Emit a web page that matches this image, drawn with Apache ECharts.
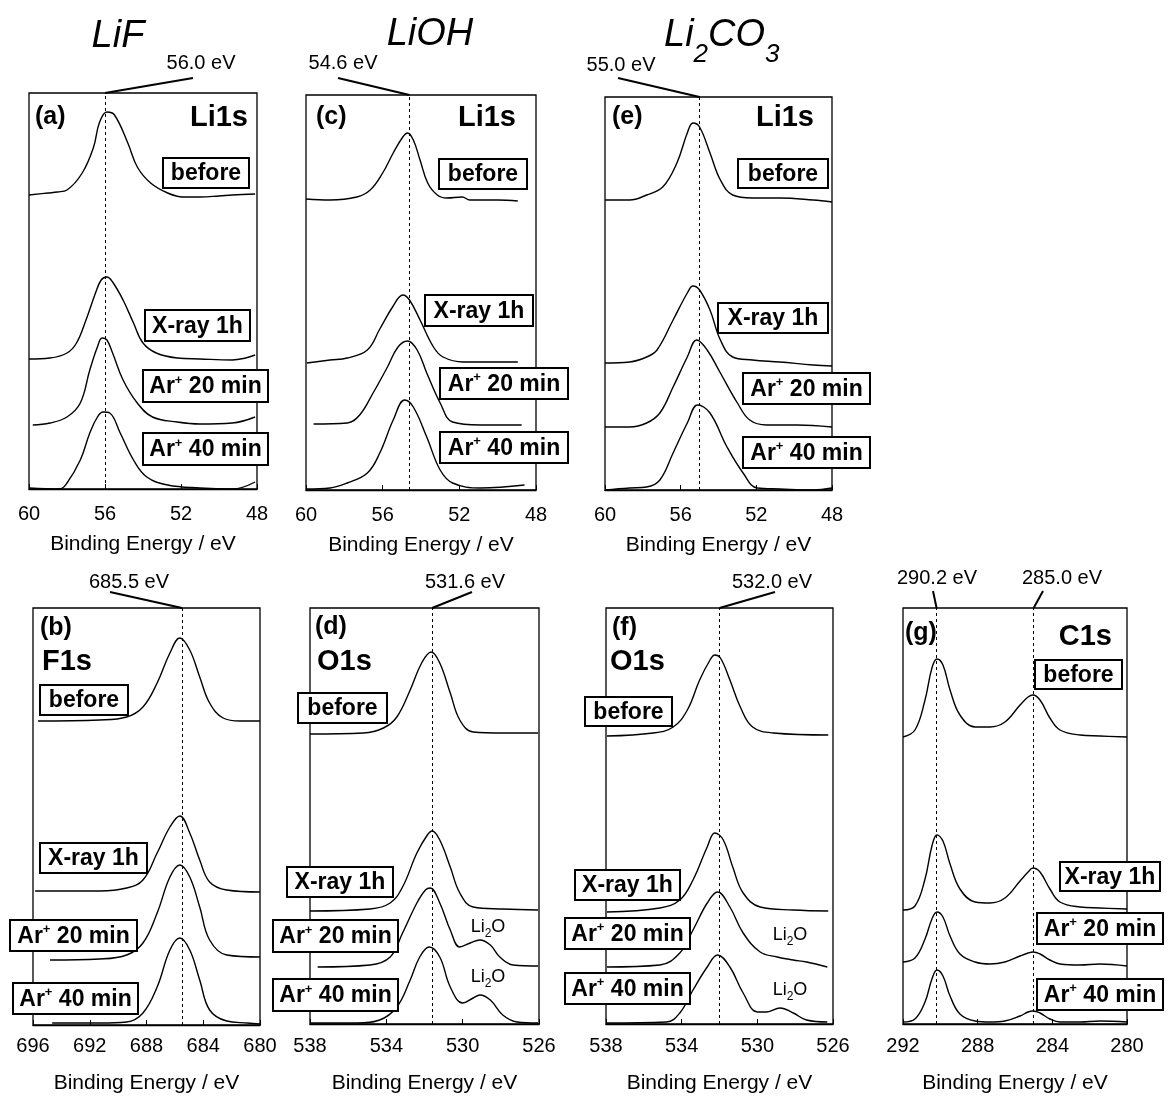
<!DOCTYPE html>
<html><head><meta charset="utf-8">
<script src="https://cdn.jsdelivr.net/npm/echarts@6/dist/echarts.min.js"></script>
<style>html,body{margin:0;padding:0;background:#fff}#c{width:1168px;height:1097px}</style>
</head><body><div id="c"></div>
<script>
// ---------- DATA: [binding energy (eV), intensity (a.u., offset stacked)] ----------
// (a) LiF Li1s
const a_before = [[60,294],[59,296],[58.5,297],[58,299],[57.2,316],[56.6,342],[56.3,366],[55.9,377],[55.5,374],[54.8,346],[54.3,322],[53.6,306],[52.7,296],[51.9,292],[51,292],[50,293],[49.3,294],[48.1,295]];
const a_xray   = [[60,130],[58.9,131],[58,136],[57.5,146],[57,169],[56.5,196],[56.2,209],[55.9,212],[55.6,207],[55.05,189],[54.5,166],[54,146],[53.3,136],[52.2,131],[51,130],[49.3,129],[48.6,131],[48.1,134]];
const a_ar20   = [[59.8,64],[58.9,66],[58,72],[57.3,86],[56.8,119],[56.4,142],[56.15,151],[55.9,149],[55.6,136],[55.05,109],[54.3,86],[53.5,72],[52.2,67],[51,65],[49.3,66],[48.1,72]];
const a_ar40   = [[60,1],[58.4,0],[58,6],[57.3,29],[56.8,56],[56.4,72],[56.1,77],[55.75,76],[55.2,56],[54.5,29],[53.8,12],[52.7,4],[51,1],[49.3,0],[48.1,7]];
// (c) LiOH Li1s
const c_before = [[60,291],[58.75,290],[57.35,293],[56.65,300],[56,317],[55.45,337],[54.95,353],[54.7,357],[54.4,350],[54.05,330],[53.65,307],[53.15,295],[52.65,292],[51.85,293],[51.45,290],[50,290],[48.95,289]];
const c_xray   = [[59.95,127],[58.75,130],[57.85,132],[56.8,140],[56.15,161],[55.45,184],[54.95,195],[54.6,190],[54.05,170],[53.35,143],[52.85,133],[51.8,128],[50,128],[48.95,128]];
const c_ar20   = [[59.6,66],[57.85,67],[57.2,75],[56.5,97],[55.75,123],[55.2,143],[54.7,149],[54.2,140],[53.7,117],[53,87],[52.35,68],[50.9,65],[48.75,65]];
const c_ar40   = [[59.95,1],[58.75,2],[57.85,7],[56.8,17],[56.15,37],[55.45,70],[54.85,90],[54.4,83],[53.7,53],[53,20],[52.35,7],[50.9,2],[48.6,5]];
// (e) Li2CO3 Li1s
const e_before = [[60,290],[58.7,290],[57.8,295],[56.95,303],[56.2,327],[55.65,357],[55.35,367],[55,363],[54.45,337],[53.9,310],[53.25,295],[52.2,292],[50.75,292],[49,290],[48,288]];
const e_xray   = [[60,127],[58.7,128],[57.8,133],[57.25,140],[56.4,170],[55.65,197],[55.35,204],[55,200],[54.45,180],[53.9,150],[53.25,133],[52.2,130],[50.75,128],[49,125],[48,124]];
const e_ar20   = [[60,63],[58.7,63],[57.8,67],[57.1,77],[56.4,103],[55.65,133],[55.15,150],[54.6,140],[53.9,117],[53,87],[52.35,70],[51.45,65],[49.85,65],[48,63]];
const e_ar40   = [[60,0],[58.7,2],[57.8,3],[57.1,10],[56.4,37],[55.65,67],[55.1,85],[54.45,77],[53.55,43],[52.7,17],[51.95,2],[50.75,1],[49,0],[48,2]];
// (b) LiF F1s
const b_before = [[695.65,304],[691.3,305],[689.4,308],[688.25,318],[687.25,342],[686.35,372],[685.65,387],[684.95,375],[684.25,348],[683.55,322],[682.6,307],[681.4,304],[680,304]];
const b_xray   = [[695.85,134],[691.3,134],[689.4,137],[688.25,145],[687.25,172],[686.35,198],[685.65,209],[684.95,192],[684.25,165],[683.55,143],[682.35,135],[680,133]];
const b_ar20   = [[694.8,65],[691.3,66],[689.4,70],[688.25,82],[687.25,112],[686.35,148],[685.65,160],[684.95,148],[684.25,118],[683.55,85],[682.35,70],[680,68]];
const b_ar40   = [[694.65,2],[691.3,2],[689.4,3],[688.25,12],[687.25,38],[686.35,75],[685.65,87],[684.95,75],[684.25,45],[683.55,15],[682.35,4],[680.9,2],[680,1]];
// (d) LiOH O1s
const d_before = [[538,290],[535.2,291],[534.15,296],[533.45,307],[532.75,334],[532.15,361],[531.65,372],[531.2,361],[530.65,331],[530.15,304],[529.45,292],[527.9,291],[526.05,291]];
const d_xray   = [[538,113],[534.85,115],[533.8,121],[533.15,137],[532.4,171],[531.85,189],[531.6,193],[531.2,184],[530.65,157],[530.15,131],[529.45,117],[527.9,115],[526.05,114]];
const d_ar20   = [[537.6,57],[534.85,59],[533.8,67],[533.15,91],[532.4,121],[531.95,134],[531.7,136],[531.2,121],[530.65,94],[530.15,77],[529.6,81],[529.1,84],[528.55,79],[528.05,67],[527.35,59],[526.05,58]];
const d_ar40   = [[538,1],[535.55,1],[534.35,4],[533.45,17],[532.75,44],[532.25,67],[531.75,77],[531.2,67],[530.65,37],[530,21],[529.45,26],[529.1,29],[528.55,24],[527.9,9],[527.15,2],[526.05,1]];
// (f) Li2CO3 O1s
const f_before = [[537.95,288],[535.5,291],[534.45,297],[533.7,314],[533.05,344],[532.5,364],[532.25,369],[531.95,366],[531.45,344],[530.9,317],[530.25,297],[529.15,291],[526.25,289]];
const f_xray   = [[537.95,112],[535.15,116],[534.1,124],[533.4,144],[532.65,177],[532.25,191],[531.8,184],[531.3,157],[530.75,131],[529.85,117],[528.1,114],[526.25,113]];
const f_ar20   = [[537.95,57],[535.15,59],[534.1,71],[533.4,94],[532.65,121],[532.1,132],[531.45,117],[530.75,91],[529.85,72],[528.95,67],[528.1,64],[527.4,62],[526.3,57]];
const f_ar40   = [[538,1],[534.8,2],[534.1,11],[533.4,34],[532.65,57],[532.1,69],[531.45,57],[530.75,31],[530,12],[529.5,12],[528.8,16],[528.1,11],[527.4,4],[526.3,2]];
// (g) Li2CO3 C1s
const g_before = [[292,287],[291.36,294],[290.82,324],[290.45,356],[290.18,365],[289.86,359],[289.48,334],[288.95,309],[288.14,297],[287.34,297],[286.54,302],[285.73,319],[285.3,327],[285.04,329],[284.66,324],[284.13,306],[283.59,294],[282.52,289],[281.45,288],[280,287]];
const g_xray   = [[292,114],[291.36,118],[290.82,145],[290.45,178],[290.18,189],[289.86,183],[289.48,160],[288.95,135],[288.14,122],[287.34,121],[286.54,126],[285.73,143],[285.3,152],[285.04,156],[284.66,152],[284.13,135],[283.59,122],[282.52,117],[281.45,116],[280,115]];
const g_ar20   = [[292,62],[291.36,66],[290.82,85],[290.45,105],[290.18,112],[289.86,107],[289.48,88],[288.95,70],[288.14,62],[287.34,60],[286.54,62],[285.73,68],[285.3,71],[285.04,72],[284.66,70],[284.13,64],[283.59,60],[282.52,59],[281.45,60],[280,58]];
const g_ar40   = [[292,2],[291.36,5],[290.82,22],[290.45,45],[290.18,54],[289.86,48],[289.48,28],[288.95,10],[288.14,3],[287.34,2],[286.54,3],[285.73,8],[285.3,12],[285.04,13],[284.66,11],[284.13,5],[283.59,2],[282.52,2],[281.45,3],[280,2]];

// reference peak energies (dashed lines)
const a_ref = [56.0], c_ref = [54.6], e_ref = [55.0], b_ref = [685.5], d_ref = [531.6], f_ref = [532.0], g_ref = [290.2, 285.0];
// x-axis ranges (eV) and tick step
const a_range = [48, 60], c_range = [48, 60], e_range = [48, 60];
const b_range = [680, 696], d_range = [526, 538], f_range = [526, 538], g_range = [280, 292];
const tickStep = 4;
const traceNames = ['before', 'X-ray 1h', 'Ar+ 20 min', 'Ar+ 40 min'];

// ---------- LAYOUT ----------
const FONT = '"Liberation Sans", Arial, Helvetica, sans-serif';
const panels = [
  {grid:{left:29, top:93, width:228, height:396}, range:a_range, traces:[a_before,a_xray,a_ar20,a_ar40], refs:a_ref, nameGap:45, margin:15},
  {grid:{left:306, top:95, width:230, height:395}, range:c_range, traces:[c_before,c_xray,c_ar20,c_ar40], refs:c_ref, nameGap:45, margin:15},
  {grid:{left:605, top:97, width:227, height:393}, range:e_range, traces:[e_before,e_xray,e_ar20,e_ar40], refs:e_ref, nameGap:45, margin:15},
  {grid:{left:33, top:608, width:227, height:417}, range:b_range, traces:[b_before,b_xray,b_ar20,b_ar40], refs:b_ref, nameGap:48, margin:11},
  {grid:{left:310, top:608, width:229, height:416}, range:d_range, traces:[d_before,d_xray,d_ar20,d_ar40], refs:d_ref, nameGap:49, margin:12},
  {grid:{left:606, top:608, width:227, height:416}, range:f_range, traces:[f_before,f_xray,f_ar20,f_ar40], refs:f_ref, nameGap:49, margin:12},
  {grid:{left:903, top:608, width:224, height:416}, range:g_range, traces:[g_before,g_xray,g_ar20,g_ar40], refs:g_ref, nameGap:49, margin:12}
];

const grid = [], xAxis = [], yAxis = [], series = [];
panels.forEach((p, i) => {
  grid.push(Object.assign({show:true, borderColor:'#000', borderWidth:1.3, backgroundColor:'transparent', containLabel:false}, p.grid));
  xAxis.push({
    gridIndex:i, type:'value', min:p.range[0], max:p.range[1], interval:tickStep, inverse:true,
    axisLine:{show:true, onZero:false, lineStyle:{color:'#000', width:1.3}},
    axisTick:{show:true, inside:true, length:5, lineStyle:{color:'#000', width:1}},
    axisLabel:{color:'#000', fontSize:20, fontFamily:FONT, margin:p.margin},
    splitLine:{show:false},
    name:'Binding Energy / eV', nameLocation:'middle', nameGap:p.nameGap,
    nameTextStyle:{color:'#000', fontSize:21, fontFamily:FONT}
  });
  yAxis.push({gridIndex:i, type:'value', min:0, max:p.grid.height, show:false});
  p.traces.forEach((t, j) => {
    const s = {
      type:'line', name:traceNames[j], xAxisIndex:i, yAxisIndex:i, data:t,
      showSymbol:false, smooth:0.4, animation:false, silent:true,
      lineStyle:{color:'#000', width:1.4}
    };
    if (j === 0) {
      s.markLine = {silent:true, symbol:'none', animation:false, label:{show:false},
        lineStyle:{type:[3,3], color:'#000', width:1},
        data: p.refs.map(v => ({xAxis:v}))};
    }
    series.push(s);
  });
});

const chart = echarts.init(document.getElementById('c'), null, {renderer:'canvas'});
chart.setOption({backgroundColor:'#fff', animation:false, grid, xAxis, yAxis, series});

// ---------- ANNOTATIONS ----------
const ctx = document.createElement('canvas').getContext('2d');
function tw(t, font){ ctx.font = font; return ctx.measureText(t).width; }
const G = [];
function txt(x, y, t, font, align, va){
  G.push({type:'text', x, y, z:100, silent:true, style:{text:t, font, fill:'#000', align:align||'left', verticalAlign:va||'middle'}});
}
function seg(x1, y1, x2, y2, w){
  G.push({type:'line', z:100, silent:true, shape:{x1, y1, x2, y2}, style:{stroke:'#000', lineWidth:w||2}});
}
const BOX_FONT = 'bold 23px ' + FONT;
const SUP_FONT = 'bold 13px ' + FONT;
function box(x, y, w, h, label){
  G.push({type:'rect', z:90, silent:true, shape:{x, y, width:w, height:h}, style:{fill:'#fff', stroke:'#000', lineWidth:2}});
  const cy = y + h/2 + 1;
  if (label.startsWith('Ar+')) {
    const p1 = 'Ar', p3 = label.slice(3);
    const w1 = tw(p1, BOX_FONT), w2 = tw('+', SUP_FONT), w3 = tw(p3, BOX_FONT);
    const x0 = x + (w - (w1 + w2 + w3)) / 2;
    txt(x0, cy, p1, BOX_FONT);
    txt(x0 + w1, cy - 7, '+', SUP_FONT);
    txt(x0 + w1 + w2, cy, p3, BOX_FONT);
  } else {
    txt(x + w/2, cy, label, BOX_FONT, 'center');
  }
}
function li2o(cx, cy){
  const f = '18px ' + FONT, fs = '12px ' + FONT;
  const w1 = tw('Li', f), w2 = tw('2', fs), w3 = tw('O', f);
  const x0 = cx - (w1 + w2 + w3) / 2;
  txt(x0, cy, 'Li', f); txt(x0 + w1, cy + 7, '2', fs); txt(x0 + w1 + w2, cy, 'O', f);
}

// compound titles
const TFONT = 'italic 38px ' + FONT;
txt(118, 36, 'LiF', TFONT, 'center');
txt(430, 34, 'LiOH', TFONT, 'center');
(function(){
  const fs = 'italic 26px ' + FONT;
  let x = 664;
  txt(x, 35, 'Li', TFONT); x += tw('Li', TFONT);
  txt(x, 55, '2', fs); x += tw('2', fs);
  txt(x, 35, 'CO', TFONT); x += tw('CO', TFONT);
  txt(x, 55, '3', fs);
})();

// panel letters and core levels
const LFONT = 'bold 25px ' + FONT, CFONT = 'bold 29px ' + FONT;
txt(35, 117, '(a)', LFONT);  txt(248, 118, 'Li1s', CFONT, 'right');
txt(316, 117, '(c)', LFONT); txt(516, 118, 'Li1s', CFONT, 'right');
txt(612, 117, '(e)', LFONT); txt(814, 118, 'Li1s', CFONT, 'right');
txt(40, 628, '(b)', LFONT);  txt(42, 662, 'F1s', CFONT);
txt(315, 627, '(d)', LFONT); txt(317, 662, 'O1s', CFONT);
txt(612, 628, '(f)', LFONT); txt(610, 662, 'O1s', CFONT);
txt(905, 633, '(g)', LFONT); txt(1112, 637, 'C1s', CFONT, 'right');

// boxed labels [x, y, w, h]
const boxes = [
  [163,158,86,30,'before'],[145,310,105,31,'X-ray 1h'],[143,370,125,32,'Ar+ 20 min'],[143,433,125,32,'Ar+ 40 min'],
  [439,159,88,30,'before'],[425,295,108,31,'X-ray 1h'],[440,368,128,31,'Ar+ 20 min'],[440,432,128,31,'Ar+ 40 min'],
  [738,159,90,29,'before'],[718,303,110,30,'X-ray 1h'],[743,373,127,31,'Ar+ 20 min'],[743,437,127,31,'Ar+ 40 min'],
  [40,685,88,30,'before'],[40,843,107,30,'X-ray 1h'],[10,920,127,31,'Ar+ 20 min'],[13,983,125,31,'Ar+ 40 min'],
  [298,693,89,30,'before'],[287,867,106,30,'X-ray 1h'],[273,920,125,32,'Ar+ 20 min'],[273,979,125,32,'Ar+ 40 min'],
  [585,697,87,29,'before'],[575,870,105,30,'X-ray 1h'],[565,918,125,31,'Ar+ 20 min'],[565,973,125,31,'Ar+ 40 min'],
  [1035,660,87,29,'before'],[1060,862,100,29,'X-ray 1h'],[1037,913,126,31,'Ar+ 20 min'],[1037,979,126,31,'Ar+ 40 min']
];
boxes.forEach(b => box(b[0], b[1], b[2], b[3], b[4]));

// Li2O labels
li2o(488, 927); li2o(488, 977); li2o(790, 935); li2o(790, 990);

// peak energy labels with leader lines to the dashed lines
const EFONT = '20px ' + FONT;
const peakLabels = [
  {axis:0, value:a_ref[0], tx:201, ty:63, lx:193, ly:78},
  {axis:1, value:c_ref[0], tx:343, ty:63, lx:338, ly:78},
  {axis:2, value:e_ref[0], tx:621, ty:65, lx:618, ly:78},
  {axis:3, value:b_ref[0], tx:129, ty:582, lx:110, ly:592},
  {axis:4, value:d_ref[0], tx:465, ty:582, lx:472, ly:592},
  {axis:5, value:f_ref[0], tx:772, ty:582, lx:775, ly:592},
  {axis:6, value:g_ref[0], tx:937, ty:578, lx:933, ly:591},
  {axis:6, value:g_ref[1], tx:1062, ty:578, lx:1043, ly:591}
];
peakLabels.forEach(pl => {
  txt(pl.tx, pl.ty, pl.value.toFixed(1) + ' eV', EFONT, 'center');
  const xp = chart.convertToPixel({xAxisIndex:pl.axis}, pl.value);
  seg(pl.lx, pl.ly, xp, panels[pl.axis].grid.top, 2);
});

chart.setOption({graphic: G});
</script>
</body></html>
